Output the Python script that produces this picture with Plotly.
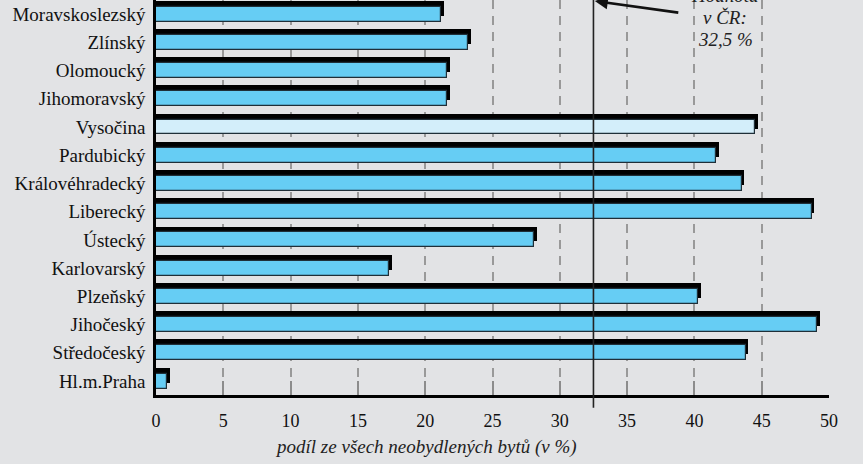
import plotly.graph_objects as go

regions = ["Hl.m.Praha", "Středočeský", "Jihočeský", "Plzeňský", "Karlovarský",
           "Ústecký", "Liberecký", "Královéhradecký", "Pardubický", "Vysočina",
           "Jihomoravský", "Olomoucký", "Zlínský", "Moravskoslezský"]
values = [0.8, 43.8, 49.1, 40.3, 17.3, 28.1, 48.7, 43.5, 41.6, 44.5, 21.6, 21.6, 23.2, 21.2]
highlight = "Vysočina"
cr_value = 32.5
x_ticks = [0, 5, 10, 15, 20, 25, 30, 35, 40, 45, 50]

BG = "#e2e3e5"
BLUE = "#66cdf4"
PALE = "#d3eefa"

pos = list(range(len(regions)))
colors = [PALE if r == highlight else BLUE for r in regions]

SHADOW_DX = 0.21
SHADOW_DY = 0.21
BAR_W = 0.53

fig = go.Figure()
fig.add_trace(go.Bar(
    x=[v + SHADOW_DX for v in values], y=[p + SHADOW_DY for p in pos],
    orientation="h", width=BAR_W, marker=dict(color="black", line=dict(width=0)),
    hoverinfo="skip", showlegend=False))
fig.add_trace(go.Bar(
    x=values, y=pos, orientation="h", width=BAR_W,
    marker=dict(color=colors, line=dict(color="#1f2f38", width=1.2)),
    showlegend=False))

serif = "Liberation Serif"

fig.update_layout(
    width=863, height=464,
    margin=dict(l=155.5, r=34, t=0, b=69, autoexpand=False),
    paper_bgcolor=BG, plot_bgcolor=BG,
    barmode="overlay", bargap=0,
    font=dict(family=serif, size=18, color="#111"),
    xaxis=dict(range=[0, 50], tickvals=x_ticks, ticktext=[str(t) for t in x_ticks],
               showgrid=True, gridcolor="#999999", gridwidth=1.5, griddash="9px,7px",
               showline=True, linecolor="black", linewidth=2.5,
               ticks="inside", ticklen=14, tickcolor="#8c8c8c", tickwidth=1.5,
               ticklabelstandoff=8, zeroline=False, automargin=False,
               tickfont=dict(family=serif, size=18, color="#111")),
    yaxis=dict(range=[-0.495, 13.5], tickvals=pos, ticktext=regions,
               showgrid=False, zeroline=False, automargin=False,
               showline=True, linecolor="black", linewidth=2.5,
               ticks="", ticklabelstandoff=4,
               tickfont=dict(family=serif, size=19, color="#111")),
)

# national average line
fig.add_shape(type="line", xref="x", yref="paper", x0=cr_value, x1=cr_value,
              y0=-0.032, y1=1.0, line=dict(color="#222", width=1.6), layer="above")

# axis title
fig.add_annotation(text="<i>podíl ze všech neobydlených bytů (v %)</i>",
                   xref="x", yref="paper", x=20.05, y=-0.131, showarrow=False,
                   xanchor="center", yanchor="middle",
                   font=dict(family=serif, size=19, color="#222"))

# callout (three lines, top line partly above the visible area)
plot_h = 464 - 69
for txt, py in [("Hodnota", -4.5), ("v ČR:", 17), ("32,5 %", 40)]:
    fig.add_annotation(text="<i>" + txt + "</i>",
                       xref="x", yref="paper", x=42.3, y=1 - py / plot_h,
                       showarrow=False, xanchor="center", yanchor="middle",
                       font=dict(family=serif, size=19, color="#222"))
fig.add_annotation(text="", xref="x", yref="paper", x=cr_value + 0.1, y=1.008,
                   ax=85, ay=16, showarrow=True, arrowhead=2, arrowsize=1,
                   arrowwidth=2.6, arrowcolor="#111")

fig.write_html("out.html", config={"displayModeBar": False},
               post_script="document.body.style.margin='0';document.body.style.overflow='hidden';")
